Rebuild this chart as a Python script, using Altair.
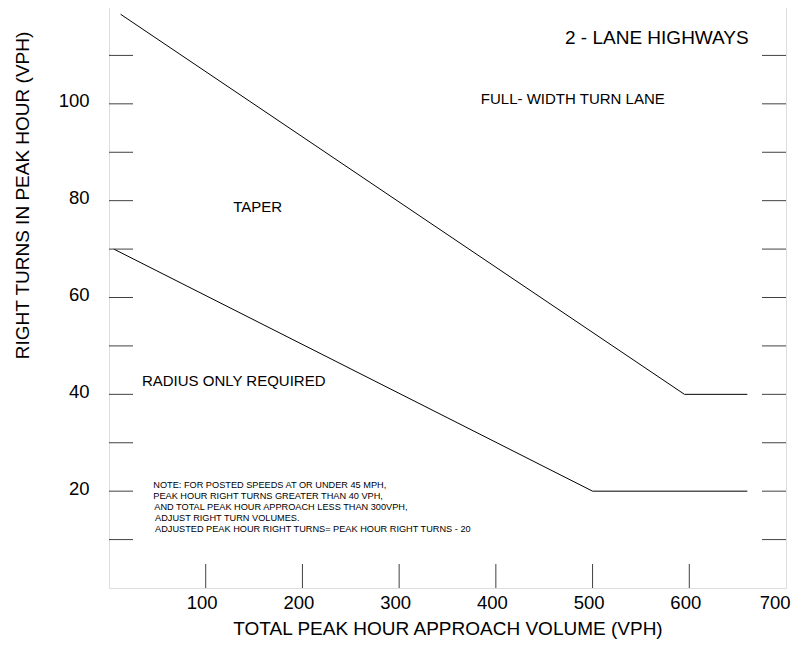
import altair as alt
import pandas as pd

# ---- data ----
upper_x = [12, 595, 660]
upper_y = [118.5, 40, 40]
lower_x = [5, 500, 660]
lower_y = [70, 20, 20]

x_tick_values = [100, 200, 300, 400, 500, 600]
y_tick_values = [10, 20, 30, 40, 50, 60, 70, 80, 90, 100, 110]
x_label_values = [100, 200, 300, 400, 500, 600, 700]
y_label_values = [20, 40, 60, 80, 100]

region_labels = ["2 - LANE HIGHWAYS", "FULL- WIDTH TURN LANE", "TAPER", "RADIUS ONLY REQUIRED"]
region_x = [471.5, 384.5, 128.5, 34]
region_y = [113.6, 101.0, 78.6, 42.7]
region_size = [19, 15, 15, 15]

note_lines = [
    "NOTE: FOR POSTED SPEEDS AT OR UNDER 45 MPH,",
    "PEAK HOUR RIGHT TURNS GREATER THAN 40 VPH,",
    "AND TOTAL PEAK HOUR APPROACH LESS THAN 300VPH,",
    "ADJUST RIGHT TURN VOLUMES.",
    "ADJUSTED PEAK HOUR RIGHT TURNS= PEAK HOUR RIGHT TURNS - 20",
]
note_x = [45.8, 45.8, 46.8, 47.6, 47.6]
note_y = [21.2, 19.0, 16.7, 14.5, 12.2]

W, H = 677, 581
FONT = "Liberation Sans"
FRAME = "#404040"

lines_df = pd.DataFrame({
    "x": upper_x + lower_x,
    "y": upper_y + lower_y,
    "series": ["upper"] * 3 + ["lower"] * 3,
    "order": [0, 1, 2, 0, 1, 2],
})
xt_df = pd.DataFrame({"x": x_tick_values})
yt_df = pd.DataFrame({"y": y_tick_values})
reg_df = pd.DataFrame({"label": region_labels, "x": region_x, "y": region_y, "size": region_size})
note_df = pd.DataFrame({"label": note_lines, "x": note_x, "y": note_y})

xscale = alt.Scale(domain=[0, 700], nice=False, zero=False)
yscale = alt.Scale(domain=[0, 120], nice=False, zero=False)

xaxis = alt.Axis(
    values=x_label_values, grid=False, ticks=False, tickSize=0, domain=False,
    labelFont=FONT, labelFontSize=18.5, labelColor="#000", labelOffset=-4, labelPadding=5,
    labelFlush=True, labelFlushOffset=8,
    title="TOTAL PEAK HOUR APPROACH VOLUME (VPH)", titleFont=FONT, titleFontSize=19,
    titleFontWeight="normal", titleColor="#000", titleBaseline="middle", titleY=40.5,
)
yaxis = alt.Axis(
    values=y_label_values, grid=False, ticks=False, tickSize=0, domain=False,
    labelFont=FONT, labelFontSize=18.5, labelColor="#000", labelOffset=-3, labelPadding=20,
    labelFlush=False,
    title="RIGHT TURNS IN PEAK HOUR (VPH)", titleFont=FONT, titleFontSize=19,
    titleFontWeight="normal", titleColor="#000", titleBaseline="middle",
    titleX=-86.5, titleY=188, titleAngle=270,
)

lines = alt.Chart(lines_df).mark_line(color="#000", strokeWidth=1).encode(
    x=alt.X("x:Q", scale=xscale, axis=xaxis),
    y=alt.Y("y:Q", scale=yscale, axis=yaxis),
    detail="series:N",
    order="order:Q",
)

xticks = alt.Chart(xt_df).mark_rule(color=FRAME, strokeWidth=1).encode(
    x=alt.X("x:Q", scale=xscale), y=alt.value(H), y2=alt.value(H - 24)
)
yticks_left = alt.Chart(yt_df).mark_rule(color=FRAME, strokeWidth=1).encode(
    y=alt.Y("y:Q", scale=yscale), x=alt.value(0), x2=alt.value(24)
)
yticks_right = alt.Chart(yt_df).mark_rule(color=FRAME, strokeWidth=1).encode(
    y=alt.Y("y:Q", scale=yscale), x=alt.value(W - 24), x2=alt.value(W)
)

regions = alt.Chart(reg_df).mark_text(font=FONT, align="left", baseline="middle", color="#000").encode(
    x=alt.X("x:Q", scale=xscale), y=alt.Y("y:Q", scale=yscale), text="label:N",
    size=alt.Size("size:Q", scale=None, legend=None),
)
notes = alt.Chart(note_df).mark_text(font=FONT, align="left", baseline="middle", color="#000", fontSize=9.2).encode(
    x=alt.X("x:Q", scale=xscale), y=alt.Y("y:Q", scale=yscale), text="label:N",
)

chart = alt.layer(lines, xticks, yticks_left, yticks_right, regions, notes).properties(
    width=W, height=H,
    autosize=alt.AutoSizeParams(type="none"),
    padding={"left": 101, "top": -1, "right": 5, "bottom": 60},
).configure_view(stroke=FRAME, strokeWidth=1).configure(background="white")

chart.save("out.html", embed_options={"renderer": "svg", "actions": False})
